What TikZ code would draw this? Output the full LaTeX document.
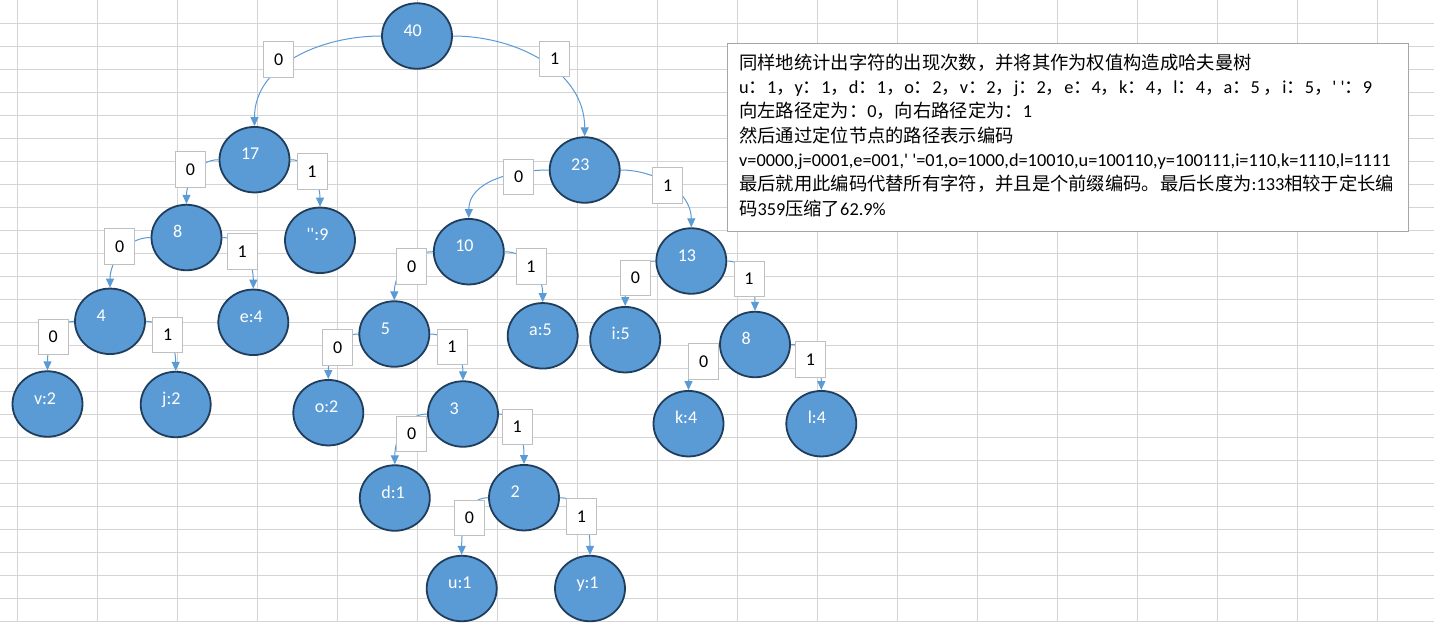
\documentclass[tikz,border=0pt]{standalone}
\usepackage{fontspec}
\setmainfont{Carlito}
\newfontfamily\cjk{Noto Sans CJK SC}
\usetikzlibrary{positioning,shapes.geometric,arrows.meta}
\definecolor{exblue}{HTML}{5B9BD5}
\definecolor{rim}{HTML}{1F3D5C}
\definecolor{cellgray}{HTML}{D4D4D4}
\definecolor{boxgray}{HTML}{BFBFBF}
\definecolor{notegray}{HTML}{A6A6A6}
\tikzset{
  leaf/.style={ellipse, draw=rim, line width=1.8pt, fill=exblue, minimum width=70pt, minimum height=65.5pt,
    inner sep=0pt, text=white, font=\fontsize{18}{20}\selectfont, text width=27pt, align=left,
    text height=10pt, text depth=10pt},
  bit/.style={rectangle, draw=boxgray, fill=white, line width=1pt, minimum width=30pt, minimum height=35.5pt,
    inner sep=0pt, font=\fontsize{18}{20}\selectfont},
  link/.style={draw=exblue, line width=1pt, -{Triangle[length=9pt,width=8pt]}},
  gridline/.style={draw=cellgray, line width=1pt},
  note/.style={rectangle, draw=notegray, fill=white, line width=1pt, minimum width=681pt, minimum height=188pt, inner sep=0pt},
}
\begin{document}
\begin{tikzpicture}[x=1pt, y=-1pt, on grid]
			\useasboundingbox (0,0) rectangle (1434,622);
			\fill[white] (0,0) rectangle (1434,622);
			% sheet cells
			\foreach \gx in {17,97,...,1377} \draw[gridline] (\gx,0) -- (\gx,622);
			\foreach \gy in {1,...,27} \draw[gridline] (0,\gy*23.03) -- (1434,\gy*23.03);

			\node(n40) [leaf] at (417,36) {40};
			\node(n17) [leaf, below left=123.7pt and 162.5pt of n40] {17};
			\node(n23) [leaf, below right=134pt and 167.7pt of n40] {23};
			\node(n8a) [leaf, below left=77.8pt and 68pt of n17] {8};
			\node(nsp) [leaf, below right=80.6pt and 65.5pt of n17] {\textquotesingle\textquotesingle:9};
			\node(n4)  [leaf, below left=83.8pt and 76.5pt of n8a] {4};
			\node(ne4) [leaf, below right=84.8pt and 66.8pt of n8a] {e:4};
			\node(nv2) [leaf, below left=82.7pt and 62.5pt of n4] {v:2};
			\node(nj2) [leaf, below right=83.2pt and 65.7pt of n4] {j:2};
			\node(n10) [leaf, below left=81.7pt and 115.9pt of n23] {10};
			\node(n13) [leaf, below right=91pt and 106.6pt of n23] {13};
			\node(n5)  [leaf, below left=82.3pt and 74.5pt of n10] {5};
			\node(na5) [leaf, below right=84.1pt and 73.9pt of n10] {a:5};
			\node(no2) [leaf, below left=78.7pt and 66pt of n5] {o:2};
			\node(n3)  [leaf, below right=80pt and 68.7pt of n5] {3};
			\node(nd1) [leaf, below left=84pt and 68.2pt of n3] {d:1};
			\node(n2)  [leaf, below right=83.7pt and 61pt of n3] {2};
			\node(nu1) [leaf, below left=90.8pt and 62.3pt of n2] {u:1};
			\node(ny1) [leaf, below right=90.8pt and 66pt of n2] {y:1};
			\node(ni5) [leaf, below left=78.7pt and 66.1pt of n13] {i:5};
			\node(n8b) [leaf, below right=83.5pt and 63.7pt of n13] {8};
			\node(nk4) [leaf, below left=79.2pt and 66.5pt of n8b] {k:4};
			\node(nl4) [leaf, below right=79.2pt and 66.3pt of n8b] {l:4};

			\draw[link](n40.west) to[out=180,in=90] (n17.north);
			\draw[link](n40.east) to[out=0,in=90] (n23.north);
			\draw[link](n17.west) to[out=180,in=90] (n8a.north);
			\draw[link](n17.east) to[out=0,in=90] (nsp.north);
			\draw[link](n8a.west) to[out=180,in=90] (n4.north);
			\draw[link](n8a.east) to[out=0,in=90] (ne4.north);
			\draw[link](n4.west) to[out=180,in=90] (nv2.north);
			\draw[link](n4.east) to[out=0,in=90] (nj2.north);
			\draw[link](n23.west) to[out=180,in=90] (n10.north);
			\draw[link](n23.east) to[out=0,in=90] (n13.north);
			\draw[link](n10.west) to[out=180,in=90] (n5.north);
			\draw[link](n10.east) to[out=0,in=90] (na5.north);
			\draw[link](n5.west) to[out=180,in=90] (no2.north);
			\draw[link](n5.east) to[out=0,in=90] (n3.north);
			\draw[link](n3.west) to[out=180,in=90] (nd1.north);
			\draw[link](n3.east) to[out=0,in=90] (n2.north);
			\draw[link](n2.west) to[out=180,in=90] (nu1.north);
			\draw[link](n2.east) to[out=0,in=90] (ny1.north);
			\draw[link](n13.west) to[out=180,in=90] (ni5.north);
			\draw[link](n13.east) to[out=0,in=90] (n8b.north);
			\draw[link](n8b.west) to[out=180,in=90] (nk4.north);
			\draw[link](n8b.east) to[out=0,in=90] (nl4.north);

			\node(b40l) [bit, below left=23.3pt and 138.2pt of n40] {0};
			\node(b40r) [bit, below right=22.8pt and 137.8pt of n40] {1};
			\node(b17l) [bit, below left=9.8pt and 64pt of n17] {0};
			\node(b17r) [bit, below right=12pt and 57.5pt of n17] {1};
			\node(b8al) [bit, below left=9.2pt and 66.7pt of n8a] {0};
			\node(b8ar) [bit, below right=14.2pt and 55.7pt of n8a] {1};
			\node(b4l)  [bit, below left=15.5pt and 56.7pt of n4] {0};
			\node(b4r)  [bit, below right=13.5pt and 57.8pt of n4] {1};
			\node(b23l) [bit, below left=6.8pt and 65.9pt of n23] {0};
			\node(b23r) [bit, below right=15.7pt and 83.1pt of n23] {1};
			\node(b10l) [bit, below left=14.6pt and 57pt of n10] {0};
			\node(b10r) [bit, below right=14.6pt and 62.2pt of n10] {1};
			\node(b5l)  [bit, below left=13.7pt and 56.5pt of n5] {0};
			\node(b5r)  [bit, below right=12.8pt and 57.7pt of n5] {1};
			\node(b3l)  [bit, below left=20pt and 51.3pt of n3] {0};
			\node(b3r)  [bit, below right=13pt and 54.3pt of n3] {1};
			\node(b2l)  [bit, below left=20.1pt and 54.5pt of n2] {0};
			\node(b2r)  [bit, below right=19pt and 57.5pt of n2] {1};
			\node(b13l) [bit, below left=16.8pt and 55.8pt of n13] {0};
			\node(b13r) [bit, below right=17.8pt and 57.7pt of n13] {1};
			\node(b8bl) [bit, below left=17.2pt and 51.2pt of n8b] {0};
			\node(b8br) [bit, below right=14.8pt and 55.5pt of n8b] {1};

			% explanation box
			\node(info) [note, anchor=north west] at (727,43) {};
			\node(infotext) [anchor=north west, align=left, inner sep=0pt, font=\fontsize{18.3}{24.3}\selectfont]
				at (739,53.5) {{\cjk 同样地统计出字符的出现次数，并将其作为权值构造成哈夫曼树}\\
				u{\cjk ：}1{\cjk ，}y{\cjk ：}1{\cjk ，}d{\cjk ：}1{\cjk ，}o{\cjk ：}2{\cjk ，}v{\cjk ：}2{\cjk ，}j{\cjk ：}2{\cjk ，}e{\cjk ：}4{\cjk ，}k{\cjk ：}4{\cjk ，}l{\cjk ：}4{\cjk ，}a{\cjk ：}5 {\cjk ，}i{\cjk ：}5{\cjk ，}\textquotesingle\ \textquotesingle{\cjk ：}9\\
				{\cjk 向左路径定为：}0{\cjk ，向右路径定为：}1\\
				{\cjk 然后通过定位节点的路径表示编码}\\
				v=0000,j=0001,e=001,\textquotesingle\ \textquotesingle=01,o=1000,d=10010,u=100110,y=100111,i=110,k=1110,l=1111\\
				{\cjk 最后就用此编码代替所有字符，并且是个前缀编码。最后长度为}:133{\cjk 相较于定长编}\\
				{\cjk 码}359{\cjk 压缩了}62.9\%};
		\end{tikzpicture}
\end{document}
